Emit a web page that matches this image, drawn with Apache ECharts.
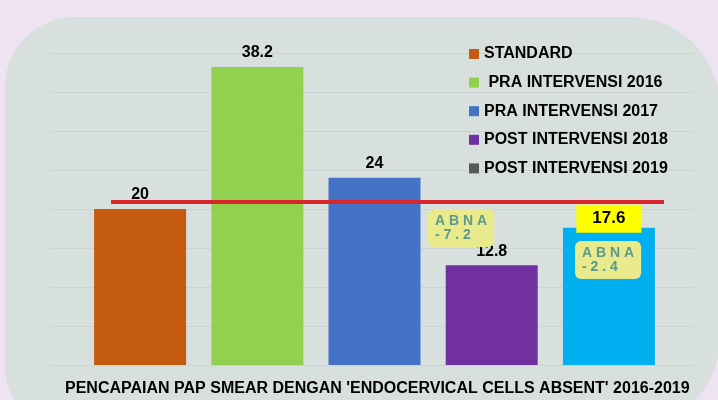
<!DOCTYPE html>
<html><head><meta charset="utf-8">
<script src="https://cdn.jsdelivr.net/npm/echarts@6/dist/echarts.min.js"></script>
<style>html,body{margin:0;padding:0;background:#efe3f1;} #c{width:718px;height:400px;}</style>
</head><body><div id="c"></div>
<script>
const categories = ['STANDARD', ' PRA INTERVENSI 2016', 'PRA INTERVENSI 2017', 'POST INTERVENSI 2018', 'POST INTERVENSI 2019'];
const values = [20, 38.2, 24, 12.8, 17.6];
const barColors = ['#c55a11', '#92d050', '#4472c4', '#7030a0', '#00b0f0'];
const legendColors = ['#c55a11', '#92d050', '#4472c4', '#7030a0', '#595959'];
const standardLine = 20.9;
const abnaLabels = ['A B N A\n- 7 . 2', 'A B N A\n- 2 . 4'];
const yMin = 0, yMax = 40, yStep = 5;
const titleText = "PENCAPAIAN PAP SMEAR DENGAN 'ENDOCERVICAL CELLS ABSENT' 2016-2019";

const FONT = '"Liberation Sans", Arial, sans-serif';
const chart = echarts.init(document.getElementById('c'), null, {renderer: 'canvas'});

const series = categories.map((name, i) => {
  const label = {show: true, position: 'top', distance: 6, color: '#000', fontFamily: FONT, fontWeight: 'bold', fontSize: 16};
  if (i === 4) {
    Object.assign(label, {backgroundColor: '#ffff00', padding: [5, 16, 5, 16], fontSize: 17, lineHeight: 18, distance: -5});
  }
  return {
    type: 'bar', name, xAxisIndex: 1, yAxisIndex: 1,
    barWidth: 92, barGap: '-100%',
    data: values.map((v, j) => (j === i ? v : '-')),
    itemStyle: {color: barColors[i]},
    label
  };
});

chart.setOption({
  animation: false,
  backgroundColor: 'transparent',
  title: {text: titleText, left: 65, top: 381, padding: 0,
    textStyle: {fontFamily: FONT, fontWeight: 'bold', fontSize: 16, color: '#000'}},
  legend: {
    orient: 'vertical', left: 469, top: 46, padding: 0,
    itemWidth: 10, itemHeight: 10, itemGap: 12.6, icon: 'rect', selectedMode: false,
    textStyle: {fontFamily: FONT, fontWeight: 'bold', fontSize: 16, lineHeight: 16, color: '#000'},
    data: categories.map((n, i) => ({name: n, itemStyle: {color: legendColors[i]}}))
  },
  grid: [
    {left: 50, right: 24, top: 53, bottom: 35},
    {left: 81.5, right: 50.5, top: 53, bottom: 35}
  ],
  xAxis: [
    {gridIndex: 0, type: 'value', show: false},
    {gridIndex: 1, type: 'category', data: categories, show: false}
  ],
  yAxis: [
    {gridIndex: 0, type: 'value', min: yMin, max: yMax, interval: yStep,
      axisLabel: {show: false}, axisLine: {show: false}, axisTick: {show: false},
      splitLine: {show: true, lineStyle: {color: '#ccd1d3', width: 1}}},
    {gridIndex: 1, type: 'value', min: yMin, max: yMax, interval: yStep, show: false, splitLine: {show: false}}
  ],
  series
});

const yLine = chart.convertToPixel({yAxisIndex: 1}, standardLine);
chart.setOption({
  graphic: [
    {type: 'rect', z: -10, silent: true, shape: {x: 5, y: 17, width: 715, height: 411, r: [70, 90, 90, 60]}, style: {fill: '#d8e0de'}},
    {type: 'line', z: 50, shape: {x1: 111, y1: yLine, x2: 664, y2: yLine}, style: {stroke: '#d9262c', lineWidth: 4}},
    {type: 'text', z: 50, left: 428, top: 209, style: {text: abnaLabels[0], fill: '#5a9891', font: 'bold 14px ' + FONT, lineHeight: 14, backgroundColor: '#e8ea8c', padding: [5, 7, 5, 7], borderRadius: 6}},
    {type: 'text', z: 50, left: 575, top: 241, style: {text: abnaLabels[1], fill: '#5a9891', font: 'bold 14px ' + FONT, lineHeight: 14, backgroundColor: '#e8ea8c', padding: [5, 7, 5, 7], borderRadius: 6}}
  ]
});
</script></body></html>
